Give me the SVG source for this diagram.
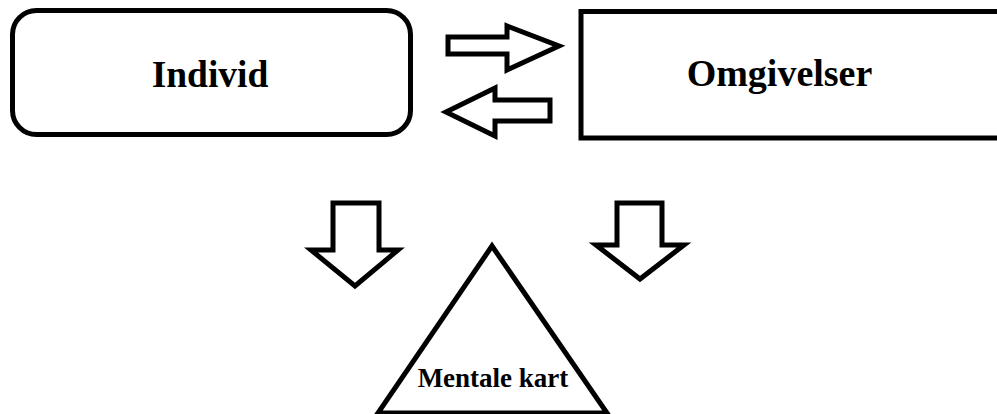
<svg xmlns="http://www.w3.org/2000/svg" width="997" height="414" viewBox="0 0 997 414">
<style>
.shape{fill:#fff;stroke:#000;stroke-width:5;stroke-linejoin:miter}
.arrow{fill:#fff;stroke:#000;stroke-width:5;stroke-linejoin:miter}
.label{font-family:"Liberation Serif","Times New Roman",serif;font-weight:bold;fill:#000;text-anchor:middle}
</style>
<rect width="997" height="414" fill="#fff"/>
<g id="individ">
<rect class="shape" x="12.5" y="10.5" width="398" height="124" rx="24" ry="24"/>
<text class="label" x="210" y="87" font-size="37.5">Individ</text>
</g>
<g id="omgivelser">
<rect class="shape" x="581" y="11.5" width="430" height="126.5" stroke-width="6"/>
<text class="label" x="779.5" y="86" font-size="38">Omgivelser</text>
</g>
<g id="mentale-kart">
<polygon class="shape" points="492,246 378,413 607,413"/>
<text class="label" x="493" y="387" font-size="27">Mentale kart</text>
</g>
<g id="connectors">
<polygon class="arrow" points="448,37 507,37 507,26 559,46 507,70 507,54 448,54"/>
<polygon class="arrow" points="550,100 495,100 495,88 446,112 495,136 495,121 550,121"/>
<polygon class="arrow" points="333,203 379,203 379,250 398,250 355,286 311,250 333,250"/>
<polygon class="arrow" points="617,203 662,203 662,245 684,245 640,279 596,245 617,245"/>
</g>
</svg>
